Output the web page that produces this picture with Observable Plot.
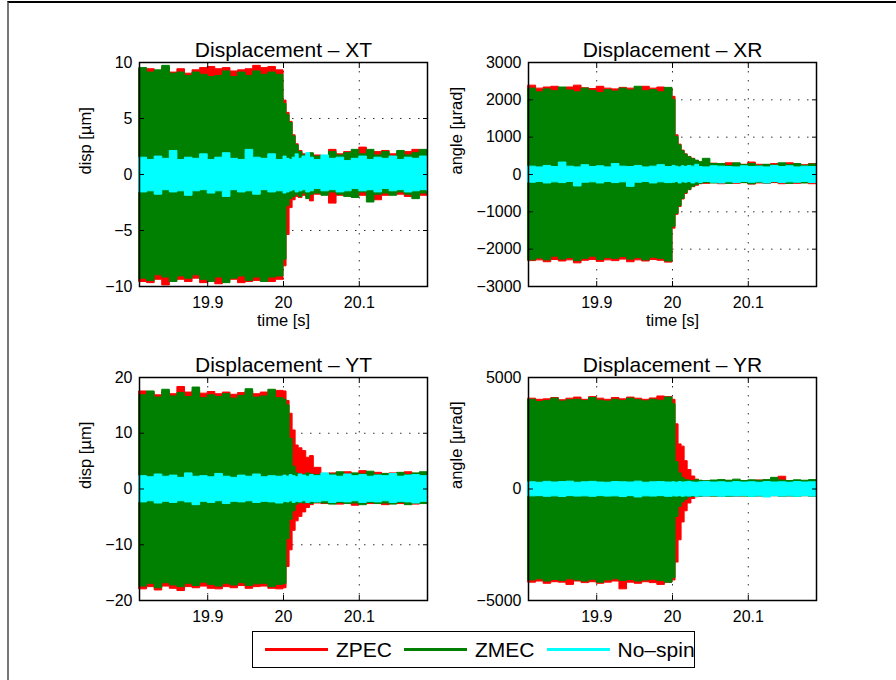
<!DOCTYPE html>
<html>
<head>
<meta charset="utf-8">
<script src="https://cdn.jsdelivr.net/npm/d3@7"></script>
<script src="https://cdn.jsdelivr.net/npm/@observablehq/plot@0.6"></script>
<style>
  html, body { margin: 0; padding: 0; background: #fff; }
  #fig { position: relative; width: 896px; height: 680px; overflow: hidden; background: #fff;
         font-family: "Liberation Sans", Arial, Helvetica, sans-serif; }
  #border { position: absolute; left: 7px; top: 1px; right: 0; bottom: 0;
            border-top: 2px solid #000; border-left: 2px solid #777; }
  .panel { position: absolute; }
  #legend { position: absolute; left: 252px; top: 631px; width: 441px; height: 35px;
            border: 1px solid #000; background: #fff; display: flex; align-items: center;
            font-size: 21px; color: #000; white-space: nowrap; }
  #legend .item { display: flex; align-items: center; margin-left: 12px; flex-shrink: 0; white-space: nowrap; }
  #legend .swatch { width: 63px; height: 3px; margin-right: 8px; flex-shrink: 0; }
</style>
</head>
<body>
<div id="fig"><div id="border"></div></div>
<script>
// Sample instants (s) at which the upper / lower envelope of each record is taken
const time = [19.81,19.82,19.83,19.84,19.85,19.86,19.87,19.88,19.89,19.90,19.91,19.92,19.93,19.94,19.95,19.96,19.97,19.98,19.99,20.00,
  20.004,20.008,20.012,20.016,20.02,20.025,20.03,20.035,20.04,20.05,
  20.06,20.07,20.08,20.09,20.10,20.11,20.12,20.13,20.14,20.15,20.16,20.17,20.18,20.19];

const seriesNames = ["ZPEC", "ZMEC", "No\u2013spin"];
const seriesColors = ["#ff0000", "#008000", "#00ffff"];
const xTicks = [19.9, 20, 20.1];

// XT displacement envelopes [µm]
const xtZpecHi = [9.3,9.4,9.2,9.5,9.1,9.4,9.0,9.3,9.5,9.6,9.4,9.5,9.2,9.3,9.4,9.7,9.5,9.6,9.3, 6.6, 5.5,4.7,3.5,2.7,2.1,1.8,1.7,1.8,1.7,1.6, 2.2,1.8,2.0,1.8,2.4,1.9,2.0,2.1,1.8,1.9,2.0,2.2,1.8,1.5];
const xtZpecLo = [-9.6,-9.7,-9.4,-9.9,-9.5,-9.4,-9.6,-9.3,-9.7,-9.4,-9.8,-9.5,-9.4,-9.7,-9.6,-9.5,-9.3,-9.6,-9.4, -8.2, -5.4,-3.0,-2.3,-2.0,-2.1,-1.9,-2.0,-2.4,-1.8,-1.7, -2.6,-1.9,-1.8,-2.0,-1.9,-2.0,-2.3,-1.9,-1.7,-1.8,-2.0,-1.7,-1.9,-1.6];
const xtZmecHi = [9.5,9.1,9.3,9.7,9.0,9.1,8.8,9.1,8.9,8.7,8.8,9.2,8.7,9.1,8.8,9.2,8.9,9.1,8.9, 6.3, 5.3,4.6,3.4,2.6,2.0,1.7,1.6,1.9,1.6,1.5, 2.0,1.7,1.9,2.2,1.8,2.2,1.7,2.0,1.6,2.1,1.7,1.9,2.2,1.4];
const xtZmecLo = [-9.3,-9.5,-9.0,-9.2,-9.6,-9.1,-9.3,-9.0,-9.4,-9.6,-9.2,-9.7,-9.3,-9.1,-9.5,-9.2,-9.6,-9.2,-9.1, -7.6, -2.8,-2.2,-2.0,-1.8,-2.0,-1.7,-2.2,-1.8,-1.7,-1.9, -1.6,-1.8,-2.0,-2.1,-1.6,-2.5,-1.8,-1.7,-1.9,-1.6,-1.8,-2.2,-1.7,-1.8];
const xtNospinHi = [1.5,1.3,1.6,1.4,2.1,1.3,1.5,1.4,1.8,1.3,1.5,1.9,1.4,1.3,2.2,1.5,1.4,1.8,1.3, 1.6, 1.4,1.3,1.5,1.8,1.4,1.6,1.9,1.5,1.3,1.7, 1.4,1.5,1.2,1.4,1.6,1.3,1.5,1.4,1.6,1.3,1.5,1.4,1.6,1.5];
const xtNospinLo = [-1.6,-1.5,-1.8,-1.4,-1.6,-1.5,-1.9,-1.5,-1.4,-1.7,-1.5,-2.0,-1.4,-1.6,-1.5,-1.8,-1.4,-1.6,-1.5, -1.7, -1.6,-1.5,-1.4,-1.6,-1.5,-1.4,-1.6,-1.5,-1.3,-1.5, -1.4,-1.6,-1.5,-1.3,-1.5,-1.4,-1.6,-1.3,-1.5,-1.4,-1.6,-1.5,-1.4,-1.5];

// XR rotation envelopes [µrad]
const xrZpecHi = [2380,2300,2330,2350,2300,2330,2380,2310,2290,2350,2300,2280,2320,2300,2290,2350,2300,2330,2300, 2080, 1050,800,640,540,470,420,360,320,300,290, 260,300,280,260,320,260,250,280,260,300,270,250,280,240];
const xrZpecLo = [-2320,-2300,-2350,-2290,-2330,-2300,-2380,-2310,-2290,-2340,-2300,-2320,-2280,-2350,-2300,-2330,-2290,-2310,-2360, -1450, -1080,-870,-670,-520,-420,-340,-300,-260,-250,-230, -260,-240,-250,-230,-270,-240,-250,-230,-260,-240,-250,-230,-260,-240];
const xrZmecHi = [2300,2200,2280,2230,2330,2250,2200,2300,2240,2180,2260,2220,2300,2250,2350,2230,2260,2200,2320, 2000, 1000,780,620,530,460,410,370,330,420,280, 280,230,300,250,280,230,260,240,300,250,280,230,270,220];
const xrZmecLo = [-2300,-2250,-2300,-2200,-2280,-2240,-2320,-2260,-2200,-2290,-2240,-2260,-2210,-2280,-2240,-2300,-2230,-2260,-2330, -1400, -1050,-850,-650,-500,-410,-330,-280,-250,-230,-240, -210,-250,-220,-230,-260,-220,-240,-210,-230,-250,-220,-240,-210,-230];
const xrNospinHi = [210,190,230,200,320,210,190,250,200,220,190,280,210,200,230,190,210,250,200, 230, 210,190,220,200,230,210,260,200,190,220, 210,200,190,220,200,210,190,230,200,220,190,210,200,210];
const xrNospinLo = [-220,-200,-240,-210,-230,-200,-320,-220,-210,-240,-200,-230,-210,-330,-220,-200,-240,-210,-230, -220, -200,-240,-210,-220,-200,-240,-210,-230,-200,-220, -240,-210,-230,-200,-220,-210,-240,-200,-230,-210,-220,-200,-230,-210];

// YT displacement envelopes [µm]
const ytZpecHi = [17.5,17.2,16.8,17.4,17.0,18.3,17.3,17.6,17.1,17.4,17.0,17.3,16.9,17.2,17.5,17.0,17.3,17.1,17.6, 17.5, 15.8,13.5,10.5,7.8,7.3,6.8,5.6,5.9,3.8,2.7, 2.8,2.6,3.0,2.7,3.2,2.6,2.9,2.7,2.8,2.6,3.0,2.7,2.9,2.6];
const ytZpecLo = [-18.0,-17.6,-18.2,-17.5,-17.9,-18.3,-17.6,-17.8,-17.5,-17.9,-18.0,-17.6,-17.8,-17.4,-17.9,-17.6,-17.5,-17.9,-18.0, -17.8, -14.0,-11.0,-7.5,-5.8,-5.0,-4.2,-3.4,-2.9,-2.6,-2.7, -2.5,-2.8,-2.6,-3.0,-2.5,-2.7,-2.6,-2.9,-2.5,-2.7,-2.6,-2.8,-2.5,-2.7];
const ytZmecHi = [16.8,17.5,16.4,17.8,16.6,17.2,16.5,18.2,16.3,16.8,16.5,17.0,16.2,16.7,17.9,16.4,16.6,17.8,16.3, 16.0, 15.0,9.0,4.0,2.8,2.6,2.5,2.8,2.6,2.5,2.7, 2.6,3.0,2.5,2.8,2.6,3.1,2.5,2.7,2.6,2.9,2.5,2.8,3.0,2.6];
const ytZmecLo = [-17.5,-17.0,-17.8,-16.9,-17.3,-17.6,-17.0,-17.4,-16.8,-17.2,-17.5,-17.0,-17.3,-16.9,-17.4,-17.1,-17.0,-17.6,-17.2, -17.0, -9.0,-5.5,-4.0,-2.8,-2.5,-2.6,-2.4,-2.7,-2.5,-2.6, -2.8,-2.5,-2.7,-2.6,-2.9,-2.5,-2.7,-2.6,-2.8,-2.5,-2.9,-2.6,-2.7,-2.5];
const ytNospinHi = [2.3,2.1,2.6,2.2,2.4,2.0,2.8,2.2,2.3,2.1,2.7,2.2,2.0,2.4,2.2,2.6,2.1,2.3,2.2, 2.4, 2.2,2.5,2.3,2.1,2.6,2.4,2.2,2.5,2.3,2.8, 2.4,2.2,2.6,2.3,2.5,2.2,2.4,2.3,2.7,2.2,2.4,2.5,2.3,2.2];
const ytNospinLo = [-2.4,-2.2,-2.6,-2.3,-2.5,-2.2,-2.4,-2.9,-2.3,-2.5,-2.2,-2.7,-2.3,-2.4,-2.2,-2.5,-2.3,-2.4,-2.6, -2.3, -2.4,-2.2,-2.5,-2.3,-2.4,-2.2,-2.5,-2.3,-2.4,-2.2, -2.5,-2.3,-2.4,-2.2,-2.5,-2.3,-2.4,-2.2,-2.5,-2.3,-2.4,-2.6,-2.3,-2.4];

// YR rotation envelopes [µrad]
const yrZpecHi = [4050,4000,4020,4080,3980,4050,4100,4000,4120,4050,4000,4080,4020,4100,4050,4000,4060,4150,4120, 4000, 2900,2000,1900,1250,850,560,420,350,330,340, 330,360,320,350,330,380,320,350,550,330,360,330,350,320];
const yrZpecLo = [-4200,-4150,-4250,-4180,-4200,-4300,-4150,-4220,-4180,-4250,-4200,-4150,-4500,-4200,-4250,-4180,-4220,-4300,-4200, -4100, -3300,-2300,-1500,-1000,-650,-450,-370,-330,-340,-330, -360,-330,-350,-320,-340,-330,-360,-320,-340,-330,-350,-320,-340,-330];
const yrZmecHi = [4000,3900,3950,4050,3920,3980,4000,3950,4080,3960,3920,4000,3950,4050,3980,3930,4000,3960,4100, 3800, 1200,700,500,400,380,350,400,370,350,380, 400,370,420,360,390,370,400,500,380,360,390,370,400,380];
const yrZmecLo = [-4100,-4050,-4150,-4080,-4120,-4050,-4100,-4150,-4070,-4200,-4100,-4050,-4120,-4080,-4150,-4100,-4070,-4130,-4200, -4000, -1250,-800,-600,-480,-380,-350,-330,-350,-320,-340, -330,-350,-320,-340,-360,-330,-350,-320,-340,-330,-350,-320,-340,-330];
const yrNospinHi = [300,280,320,290,310,330,280,300,320,290,280,310,300,290,330,280,300,310,290, 300, 280,310,290,300,320,290,280,300,310,290, 300,280,310,290,300,280,310,290,300,280,310,290,300,290];
const yrNospinLo = [-330,-320,-350,-330,-360,-320,-340,-330,-350,-320,-340,-330,-360,-320,-380,-330,-340,-320,-350, -330, -340,-320,-350,-330,-340,-320,-350,-330,-340,-320, -350,-330,-340,-320,-350,-330,-380,-320,-340,-330,-350,-320,-340,-330];

const fmt = d3.format("");
const FONT = "'Liberation Sans', Arial, Helvetica, sans-serif";

function drawPanel(cfg) {
  const rows = time.map((t, i) => ({
    t,
    zpecLo: cfg.zpec[0][i], zpecHi: cfg.zpec[1][i],
    zmecLo: cfg.zmec[0][i], zmecHi: cfg.zmec[1][i],
    nospinLo: cfg.nospin[0][i], nospinHi: cfg.nospin[1][i]
  }));
  const [y0, y1] = cfg.yDomain;
  const innerY = cfg.yTicks.filter(v => v !== y0 && v !== y1);
  const band = (lo, hi, color) => Plot.areaY(rows, {
    x: "t", y1: lo, y2: hi, fill: color, stroke: color, strokeWidth: 1, curve: "step-after"
  });
  const marks = [
    Plot.gridX(xTicks, {stroke: "#000", strokeOpacity: 0.8, strokeWidth: 1, strokeDasharray: "1.5,7.5"}),
    Plot.gridY(innerY, {stroke: "#000", strokeOpacity: 0.8, strokeWidth: 1, strokeDasharray: "1.5,7.5"}),
    band("zpecLo", "zpecHi", seriesColors[0]),
    band("zmecLo", "zmecHi", seriesColors[1]),
    band("nospinLo", "nospinHi", seriesColors[2]),
    // inward tick marks on all four sides of the box
    Plot.axisX(xTicks, {anchor: "bottom", tickSize: 5, dy: -5, tickFormat: () => "", label: null}),
    Plot.axisX(xTicks, {anchor: "top", tickSize: 5, dy: 5, tickFormat: () => "", label: null}),
    Plot.axisY(cfg.yTicks, {anchor: "left", tickSize: 5, dx: 5, tickFormat: () => "", label: null}),
    Plot.axisY(cfg.yTicks, {anchor: "right", tickSize: 5, dx: -5, tickFormat: () => "", label: null}),
    // tick labels
    Plot.axisX(xTicks, {anchor: "bottom", tickSize: 0, tickPadding: 10, tickFormat: fmt, label: null, fontSize: 16}),
    Plot.axisY(cfg.yTicks, {anchor: "left", tickSize: 0, tickPadding: 7, tickFormat: fmt, label: null, fontSize: 16}),
    Plot.frame({stroke: "#000", strokeWidth: 1.5}),
    Plot.text([cfg.title], {frameAnchor: "top", dy: -20, fontSize: 21}),
    Plot.text([cfg.ylabel], {frameAnchor: "left", rotate: -90, dx: cfg.ylabelDx, fontSize: 16.5})
  ];
  if (cfg.xlabel) marks.push(Plot.text([cfg.xlabel], {frameAnchor: "bottom", dy: 39, fontSize: 16.5}));

  const svg = Plot.plot({
    width: 448, height: 340,
    marginLeft: cfg.margins[0], marginRight: cfg.margins[1],
    marginTop: cfg.margins[2], marginBottom: cfg.margins[3],
    style: {fontFamily: FONT, fontSize: "16px", color: "#000", background: "transparent", overflow: "visible"},
    x: {domain: [19.81, 20.19]},
    y: {domain: cfg.yDomain},
    marks
  });
  svg.classList.add("panel");
  svg.style.left = cfg.left + "px";
  svg.style.top = cfg.top + "px";
  document.getElementById("fig").appendChild(svg);
}

drawPanel({
  title: "Displacement \u2013 XT", ylabel: "disp [\u00b5m]", xlabel: "time [s]", ylabelDx: -54,
  yDomain: [-10, 10], yTicks: [-10, -5, 0, 5, 10],
  zpec: [xtZpecLo, xtZpecHi], zmec: [xtZmecLo, xtZmecHi], nospin: [xtNospinLo, xtNospinHi],
  left: 0, top: 0, margins: [139, 21, 62, 54]
});
drawPanel({
  title: "Displacement \u2013 XR", ylabel: "angle [\u00b5rad]", xlabel: "time [s]", ylabelDx: -72,
  yDomain: [-3000, 3000], yTicks: [-3000, -2000, -1000, 0, 1000, 2000, 3000],
  zpec: [xrZpecLo, xrZpecHi], zmec: [xrZmecLo, xrZmecHi], nospin: [xrNospinLo, xrNospinHi],
  left: 448, top: 0, margins: [80, 80, 62, 54]
});
drawPanel({
  title: "Displacement \u2013 YT", ylabel: "disp [\u00b5m]", xlabel: null, ylabelDx: -54,
  yDomain: [-20, 20], yTicks: [-20, -10, 0, 10, 20],
  zpec: [ytZpecLo, ytZpecHi], zmec: [ytZmecLo, ytZmecHi], nospin: [ytNospinLo, ytNospinHi],
  left: 0, top: 340, margins: [139, 21, 37, 80]
});
drawPanel({
  title: "Displacement \u2013 YR", ylabel: "angle [\u00b5rad]", xlabel: null, ylabelDx: -72,
  yDomain: [-5000, 5000], yTicks: [-5000, 0, 5000],
  zpec: [yrZpecLo, yrZpecHi], zmec: [yrZmecLo, yrZmecHi], nospin: [yrNospinLo, yrNospinHi],
  left: 448, top: 340, margins: [80, 80, 37, 80]
});

// Shared legend below the panels
const legend = document.createElement("div");
legend.id = "legend";
seriesNames.forEach((name, i) => {
  const item = document.createElement("div");
  item.className = "item";
  const sw = document.createElement("div");
  sw.className = "swatch";
  sw.style.background = seriesColors[i];
  const label = document.createElement("span");
  label.textContent = name;
  item.appendChild(sw);
  item.appendChild(label);
  legend.appendChild(item);
});
document.getElementById("fig").appendChild(legend);
</script>
</body>
</html>
